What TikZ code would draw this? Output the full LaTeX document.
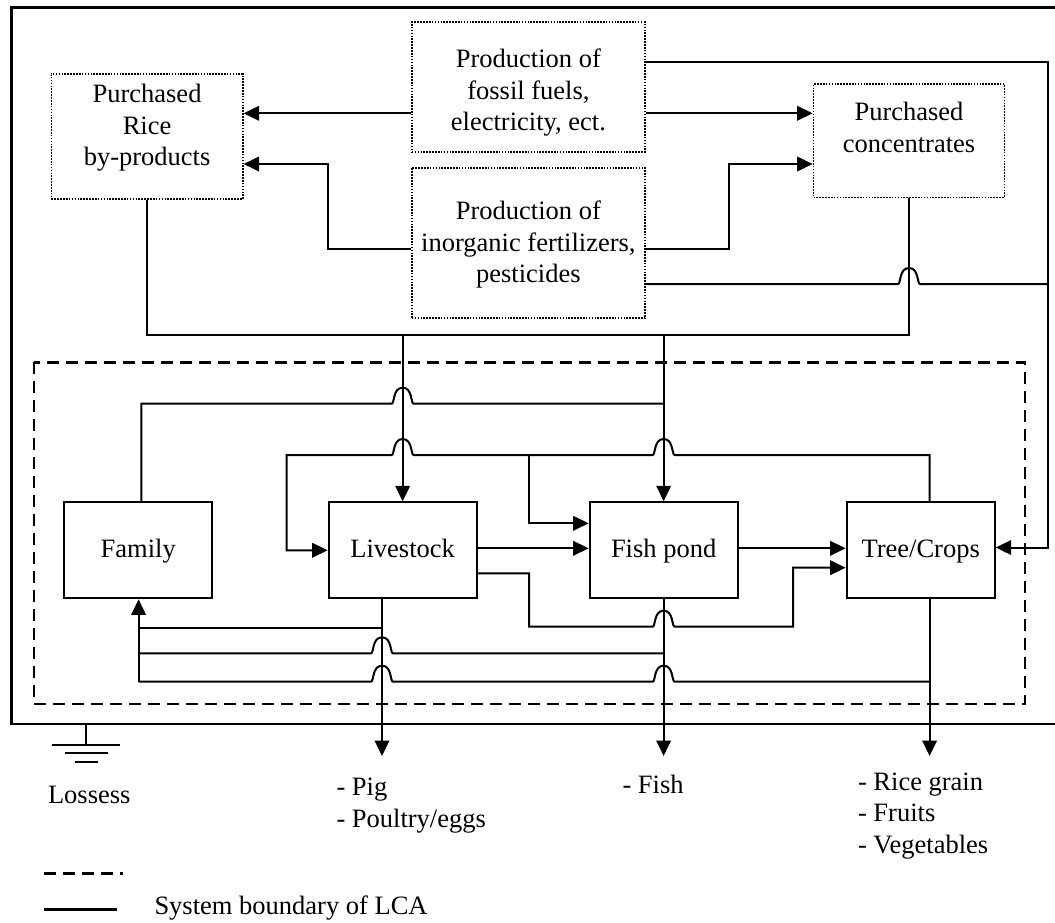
\documentclass[tikz,border=0pt]{standalone}
\usepackage{fontspec}
\setmainfont{Liberation Serif}
\usetikzlibrary{arrows.meta,calc}
\newcommand{\hopat}[2]{-- ({#1-11},#2) .. controls ({#1-8},#2) and ({#1-10},{#2-16}) .. (#1,{#2-16}) .. controls ({#1+10},{#2-16}) and ({#1+8},#2) .. ({#1+11},#2)}
\begin{document}
\begin{tikzpicture}[x=1pt,y=-1pt,line width=2pt,
  font=\fontsize{26.5}{31.5}\selectfont,
  arr/.style={-{Triangle[length=15.5pt,width=14.5pt]}},
  rarr/.style={{Triangle[length=15.5pt,width=14.5pt]}-},
  dotbox/.style={draw,line width=1.7pt,dash pattern=on 1.6pt off 1.3pt,inner sep=0pt},
  solidbox/.style={draw,line width=2pt,minimum width=148pt,minimum height=96pt,inner sep=0pt,text height=20pt,text depth=5pt},
  txt/.style={inner sep=0pt,align=center},
  ltxt/.style={inner sep=0pt,align=left},
  bound/.style={line width=2.8pt},
  lcabound/.style={line width=2.4pt,dash pattern=on 12pt off 7pt}]
\useasboundingbox (0,0) rectangle (1055,922);
% outer boundary
\draw[bound] (1070,7.3) -- (11.2,7.3) -- (11.2,724) -- (1070,724);
% dashed boundary
\draw[lcabound] (33.8,362.3) rectangle (1025,704);
% dotted boxes
\node[dotbox,minimum width=191.3pt,minimum height=125pt] (rice) at (147.05,136.5) {};
\node[txt,anchor=north] (ricet) at (147.05,83.5) {Purchased\\Rice\\by-products};
\node[dotbox,minimum width=233.2pt,minimum height=129.4pt] (fossil) at (528.4,87) {};
\node[txt,anchor=north] (fossilt) at (528.4,48) {Production of\\fossil fuels,\\electricity, ect.};
\node[dotbox,minimum width=233.2pt,minimum height=150.6pt] (inorg) at (528.4,243) {};
\node[txt,anchor=north] (inorgt) at (528.4,200) {Production of\\inorganic fertilizers,\\pesticides};
\node[dotbox,minimum width=191pt,minimum height=113.3pt] (conc) at (909,140.7) {};
\node[txt,anchor=north] (conct) at (909,101.5) {Purchased\\concentrates};
% solid boxes
\node[solidbox] (family) at (138.25,550.3) {Family};
\node[solidbox] (live) at (402.65,550.3) {Livestock};
\node[solidbox] (fish) at (663.65,550.3) {Fish pond};
\node[solidbox] (tree) at (920.65,550.3) {Tree/Crops};
% top connectors
\draw[arr] (fossil.west |- 0,113.3) -- (rice.east |- 0,113.3);
\draw[arr] (inorg.west |- 0,249.3) -| (328,164) -- (rice.east |- 0,164);
\draw[arr] (fossil.east |- 0,113.3) -- (conc.west |- 0,113.3);
\draw[arr] (inorg.east |- 0,249.3) -| (728.9,164) -- (conc.west |- 0,164);
\draw[arr] (fossil.east |- 0,61.7) -| (1048,547.5) -- (tree.east |- 0,547.5);
\draw (inorg.east |- 0,284) \hopat{909}{284} -- (1048,284);
\draw (rice.south) -- (rice.south |- 0,335) -- (conc.south |- 0,335) -- (conc.south);
\draw[arr] (live.north |- 0,335) -- (live.north);
\draw[arr] (fish.north |- 0,335) -- (fish.north);
% inner connectors
\draw (family.north -| 141.3,0) -- (141.3,403.7) \hopat{402.65}{403.7} -- (fish.north |- 0,403.7);
\draw[rarr] (live.west) -- (286.7,550.3) -- (286.7,455) \hopat{402.65}{455} \hopat{663.65}{455} -- (929.6,455) -- (tree.north -| 929.6,0);
\draw[arr] (529.2,455) -- (529.2,523.3) -- (fish.west |- 0,523.3);
\draw[arr] (live.east |- 0,548.3) -- (fish.west |- 0,548.3);
\draw[arr] (fish.east |- 0,548.3) -- (tree.west |- 0,548.3);
\draw[arr] (live.east |- 0,573.3) -| (529.2,626.7) \hopat{663.65}{626.7} -| (793,567.7) -- (tree.west |- 0,567.7);
% outputs
\coordinate (pigout) at (382,756);
\coordinate (fishout) at (663.65,756);
\coordinate (cropout) at (929.6,756);
\draw[arr] (live.south -| 382,0) -- (pigout);
\draw[arr] (fish.south) -- (fishout);
\draw[arr] (tree.south -| 929.6,0) -- (cropout);
% feedback to family
\draw (138.6,627.7) -- (382,627.7);
\draw (138.6,653.3) \hopat{382}{653.3} -- (663.65,653.3);
\draw (138.6,681.7) \hopat{382}{681.7} \hopat{663.65}{681.7} -- (929.6,681.7);
\draw[arr] (138.6,681.7) -- (family.south -| 138.6,0);
% output labels
\node[ltxt,anchor=north west] (pigt) at (335.5,777.3) {- Pig\\- Poultry/eggs};
\node[ltxt,anchor=north west] (fisht) at (621.5,774) {- Fish};
\node[ltxt,anchor=north west] (cropt) at (857,771.7) {- Rice grain\\- Fruits\\- Vegetables};
% losses (ground)
\coordinate (gnd) at (85.5,745);
\draw (85.5,724) -- (gnd);
\draw (52.4,745) -- (120,745);
\draw (64.9,753.3) -- (107.5,753.3);
\draw (75,761.7) -- (98,761.7);
\node[inner sep=0pt,anchor=base west] (losst) at (47,803) {Lossess};
% legend
\draw[lcabound] (44,873.3) -- (123.4,873.3);
\draw[line width=2.4pt] (44,909.3) -- (116.6,909.3);
\node[inner sep=0pt,anchor=base west] (legt) at (153.5,914.5) {System boundary of LCA};
\end{tikzpicture}
\end{document}
